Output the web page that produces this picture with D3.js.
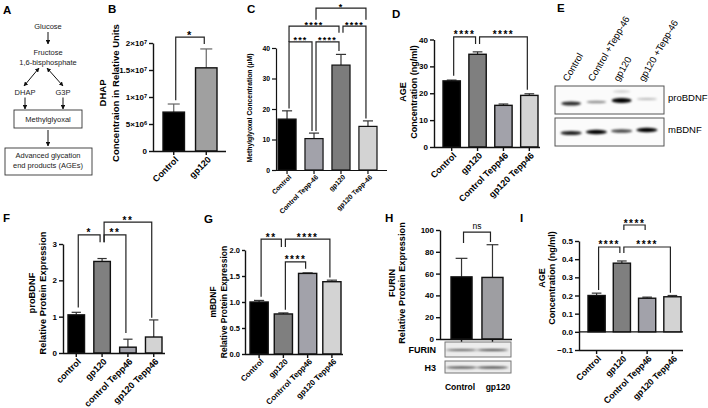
<!DOCTYPE html>
<html><head><meta charset="utf-8">
<script src="https://cdn.jsdelivr.net/npm/d3@7"></script>
<style>
body{margin:0;background:#fff;}
svg{display:block;}
</style></head><body>
<svg id="fig" width="708" height="408"></svg>
<script>
// ---------------- DATA ----------------
// Panel A flow chart
const flowNodes = ["Glucose","Fructose","1,6-bisphosphate","DHAP","G3P","Methylglyoxal","Advanced glycation","end products (AGEs)"];

// Panel B
const bCats = ["Control","gp120"];
const bMeans = [7.2e6, 1.54e7];
const bSem = [1.5e6, 3.5e6];
const bTicks = [0, 5e6, 1e7, 1.5e7, 2e7];
const bSig = [[0,1,"*",2.11e7,9.4e6,1.98e7]];

// Panel C
const cCats = ["Control","Control Tepp-46","gp120","gp120 Tepp-46"];
const cMeans = [16.7, 10.3, 34.4, 14.3];
const cSem = [2.7, 1.8, 3.5, 1.8];
const cTicks = [0,10,20,30,40];
const cSig = [[0,1,"***",42,20.2,12.8],[1,2,"****",42,12.8,39],[0,2,"****",47.2,42,45],[2,3,"****",47.2,45,16.9],[1,3,"*",53.1,49.3,49.3]];

// Panel D
const dCats = ["Control","gp120","Control Tepp46","gp120 Tepp46"];
const dMeans = [24.6, 34.5, 15.5, 19.2];
const dSem = [0.3, 0.9, 0.5, 0.6];
const dTicks = [0,10,20,30,40];
const dSig = [[0,1,"****",41,26.5,38.3],[1,3,"****",41,38.3,21.3]];

// Panel E (western blot)
const eLanes = ["Control","Control +Tepp-46","gp120","gp120 +Tepp-46"];
const eProBDNF = [0.8, 0.35, 1.0, 0.15];
const eMBDNF = [0.85, 1.0, 0.65, 1.0];
const eBlotLabels = ["proBDNF","mBDNF"];

// Panel F
const fCats = ["control","gp120","control Tepp46","gp120 Tepp46"];
const fMeans = [1.05, 2.52, 0.16, 0.44];
const fSem = [0.07, 0.08, 0.22, 0.47];
const fTicks = [0,1,2,3];
const fSig = [[0,1,"*",3.25,1.25,3.05],[1,2,"**",3.25,3.05,0.55],[1,3,"**",3.6,3.05,0.97]];

// Panel G
const gCats = ["Control","gp120","Contrrol Tepp46","gp120 Tepp46"];
const gMeans = [1.0, 0.77, 1.55, 1.39];
const gSem = [0.03, 0.02, 0.01, 0.03];
const gTicks = [0,0.5,1.0,1.5,2.0];
const gSig = [[0,1,"**",2.21,1.1,2.06],[1,3,"****",2.21,2.06,1.47],[1,2,"****",1.77,0.85,1.64]];

// Panel H
const hCats = ["Control","gp120"];
const hMeans = [57, 56.5];
const hSem = [17, 30];
const hTicks = [0,20,40,60,80,100];
const hSig = [[0,1,"ns",98,88,89]];
const hBlots = ["FURIN","H3"];
const hFurin = [0.6, 0.7];
const hH3 = [0.75, 0.8];

// Panel I
const iCats = ["Control","gp120","Control Tepp46","gp120 Tepp46"];
const iMeans = [0.2, 0.378, 0.185, 0.193];
const iSem = [0.013, 0.012, 0.006, 0.007];
const iTicks = [-0.1,0.0,0.1,0.2,0.3,0.4,0.5];
const iSig = [[0,1,"****",0.467,0.23,0.434],[1,3,"****",0.467,0.434,0.215],[1,2,"****",0.588,0.56,0.56]];

const panelLetters = ["A","B","C","D","E","F","G","H","I"];

// ---------------- DRAWING ----------------
const FONT = '"Liberation Sans", Arial, Helvetica, sans-serif';
const svg = d3.select("#fig").attr("font-family", FONT);
const defs = svg.append("defs");
defs.append("marker").attr("id","ah").attr("viewBox","0 0 10 10")
  .attr("refX",9).attr("refY",5).attr("markerWidth",4.5).attr("markerHeight",4.5)
  .attr("orient","auto-start-reverse")
  .append("path").attr("d","M0,0L10,5L0,10z").attr("fill","#111");
defs.append("filter").attr("id","blur").attr("x","-20%").attr("y","-200%").attr("width","140%").attr("height","500%")
  .append("feGaussianBlur").attr("stdDeviation",0.8);

// panel letters
const letterPos = [[3,13.5],[108,13],[247,13],[392,18],[557,12],[3,222],[204,223],[385,222],[520,222]];
panelLetters.forEach((L,i)=>{
  svg.append("text").attr("x",letterPos[i][0]).attr("y",letterPos[i][1])
    .attr("font-size",11.5).attr("font-weight","bold").text(L);
});

// ---- Panel A ----
(function(){
  const g = svg.append("g").attr("font-size",7.5).attr("fill","#222").attr("text-anchor","middle");
  const tp = [[48,28.5],[48,54.5],[48,64.5],[25,94.5],[63,94.5],[48,121.5],[48,158],[48,167.5]];
  flowNodes.forEach((t,i)=> g.append("text").attr("x",tp[i][0]).attr("y",tp[i][1]).text(t));
  const arrows = [
    [48,32,48,44,false],[39,68,24,86,true],[47,68,63,86,true],
    [25,97.5,25,109,false],[63,97.5,63,109,false],[48,130,48,146,false]
  ];
  arrows.forEach(a=>{
    const l = g.append("line").attr("x1",a[0]).attr("y1",a[1]).attr("x2",a[2]).attr("y2",a[3])
      .attr("stroke","#111").attr("stroke-width",1).attr("marker-end","url(#ah)");
    if (a[4]) l.attr("marker-start","url(#ah)");
  });
  g.append("rect").attr("x",14).attr("y",110).attr("width",68).attr("height",18).attr("fill","none").attr("stroke","#333").attr("stroke-width",0.9);
  g.append("rect").attr("x",5).attr("y",148).attr("width",87).attr("height",27).attr("fill","none").attr("stroke","#333").attr("stroke-width",0.9);
})();

// ---- generic bar panel ----
function supFmt(v){
  if (v===0) return "0";
  const e = Math.floor(Math.log10(v));
  const m = +(v/Math.pow(10,e)).toFixed(2);
  return m + "×10^" + e;
}

function barPanel(p){
  const g = svg.append("g");
  const y = d3.scaleLinear().domain(p.domain).range([p.yBot, p.yTop]);
  const x = d3.scaleBand().domain(p.cats).range([p.barL, p.barR]).paddingInner(p.pad).paddingOuter(0);
  const bw = x.bandwidth();
  const zeroY = y(Math.max(0, p.domain[0]));
  const sw = p.sw || 1.4;
  const tk = p.tickLen || 4;

  if (p.domain[0] < 0) {
    g.append("line").attr("x1",p.axX).attr("x2",p.axEnd).attr("y1",zeroY).attr("y2",zeroY)
      .attr("stroke","#111").attr("stroke-width",sw);
  }
  // error bars (upward only)
  p.cats.forEach((c,i)=>{
    const cx = x(c)+bw/2, top = y(p.means[i]+p.sem[i]);
    g.append("line").attr("x1",cx).attr("x2",cx).attr("y1",y(p.means[i])).attr("y2",top)
      .attr("stroke",p.errColor||"#333").attr("stroke-width",1.2);
    g.append("line").attr("x1",cx-bw*0.28).attr("x2",cx+bw*0.28).attr("y1",top).attr("y2",top)
      .attr("stroke",p.errColor||"#333").attr("stroke-width",1.2);
  });
  // bars
  g.selectAll("rect.bar").data(p.cats).join("rect").attr("class","bar")
    .attr("x",d=>x(d)).attr("y",(d,i)=>y(p.means[i]))
    .attr("width",bw).attr("height",(d,i)=>zeroY-y(p.means[i]))
    .attr("fill",(d,i)=>p.colors[i]).attr("stroke","#111").attr("stroke-width",sw);

  // y axis
  const ya = g.append("g").attr("transform",`translate(${p.axX},0)`)
    .call(d3.axisLeft(y).tickValues(p.ticks).tickSize(tk).tickSizeOuter(0).tickFormat(p.fmt||(d=>d)))
    .attr("font-family",FONT);
  ya.select(".domain").attr("stroke","#111").attr("stroke-width",sw);
  ya.selectAll(".tick line").attr("stroke","#111").attr("stroke-width",sw);
  ya.selectAll(".tick text").attr("font-size",p.tickFs).attr("font-weight","bold").attr("x",-(tk+2))
    .each(function(){
      const s = d3.select(this), t = s.text();
      if (t.includes("^")) {
        const [a,b] = t.split("^");
        s.text(null);
        s.append("tspan").text(a);
        s.append("tspan").attr("dy","-0.45em").attr("font-size","70%").text(b);
      }
    });

  // x axis
  const xa = g.append("g").attr("transform",`translate(0,${p.yBot})`)
    .call(d3.axisBottom(x).tickSize(4).tickSizeOuter(0)).attr("font-family",FONT);
  xa.select(".domain").remove();
  xa.selectAll(".tick line").attr("stroke","#111").attr("stroke-width",sw);
  xa.append("line").attr("x1",p.axX).attr("x2",p.axEnd).attr("y1",0.5).attr("y2",0.5)
    .attr("stroke","#111").attr("stroke-width",sw);
  if (p.xlRot === 0) {
    xa.selectAll(".tick text").remove();
  } else {
    xa.selectAll(".tick text").attr("font-size",p.xlFs).attr("font-weight","bold")
      .attr("text-anchor","end").attr("x",0).attr("y",0).attr("dy","0.35em")
      .attr("transform",`translate(${p.xlDx},${p.xlDy}) rotate(-45)`);
  }

  // y label
  p.ylab.forEach((t,k)=>{
    g.append("text").attr("transform",`translate(${p.ylabX[k]},${p.ylabY}) rotate(-90)`)
      .attr("text-anchor","middle").attr("dy","0.35em").attr("font-size",p.ylabFs)
      .attr("font-weight","bold").text(t);
  });

  // significance brackets
  p.sig.forEach(s=>{
    const [i,j,lab,lvl,li,lj] = s;
    const xi = x(p.cats[i])+bw/2+2, xj = x(p.cats[j])+bw/2-2;
    g.append("path").attr("d",`M${xi},${y(li)}V${y(lvl)}H${xj}V${y(lj)}`)
      .attr("fill","none").attr("stroke","#222").attr("stroke-width",1.2);
    const isNs = lab==="ns";
    g.append("text").attr("x",(xi+xj)/2).attr("y", isNs ? y(lvl)-3 : y(lvl)+(p.starDy||1.5))
      .attr("text-anchor","middle").attr("font-size", isNs ? 8.5 : p.starFs)
      .attr("font-weight", isNs ? "normal" : "bold")
      .attr("letter-spacing", isNs ? 0 : p.starLs)
      .text(lab);
  });
  return {x,y,g};
}

const greys4a = ["#000000","#a2a2aa","#7c7c7c","#d3d3d3"];
const greys4b = ["#000000","#7f7f7f","#a2a2aa","#d3d3d3"];

// B
barPanel({cats:bCats, means:bMeans, sem:bSem, ticks:bTicks, sig:bSig, fmt:supFmt,
  domain:[0,2e7], axX:153, axEnd:226, yBot:151, yTop:43, barL:163, barR:217, pad:0.34,
  colors:["#000000","#a0a0a0"], tickFs:8, xlFs:9, xlDx:3, xlDy:7,
  ylab:["DHAP","Concentraion in Relative Units"], ylabX:[103,116], ylabY:93, ylabFs:9.5,
  starFs:11, starLs:1.5, starDy:2, errColor:"#666"});

// C
barPanel({cats:cCats, means:cMeans, sem:cSem, ticks:cTicks, sig:cSig,
  domain:[0,40], axX:276, axEnd:387, yBot:170, yTop:48, barL:278, barR:377, pad:0.33,
  colors:greys4a, tickFs:6.8, xlFs:6.8, xlDx:3, xlDy:6,
  ylab:["Methylglyoxal Concentration (µM)"], ylabX:[250], ylabY:108, ylabFs:6.8,
  starFs:9, starLs:1.2, sw:1.2});

// D
barPanel({cats:dCats, means:dMeans, sem:dSem, ticks:dTicks, sig:dSig,
  domain:[0,40], axX:434, axEnd:540, yBot:147, yTop:39.5, barL:443, barR:538, pad:0.33,
  colors:greys4b, tickFs:8, xlFs:9, xlDx:3, xlDy:7,
  ylab:["AGE","Concentration (ng/ml)"], ylabX:[403,414], ylabY:92, ylabFs:9,
  starFs:10, starLs:1.5});

// F
barPanel({cats:fCats, means:fMeans, sem:fSem, ticks:fTicks, sig:fSig,
  domain:[0,3], axX:63, axEnd:165, yBot:353, yTop:244, barL:68, barR:162, pad:0.36,
  colors:["#000000","#808080","#a2a2aa","#d3d3d3"], tickFs:8, xlFs:9, xlDx:3, xlDy:7,
  ylab:["proBDNF","Relative Protein Expression"], ylabX:[32,43], ylabY:293, ylabFs:9.3,
  starFs:10, starLs:1.5});

// G
barPanel({cats:gCats, means:gMeans, sem:gSem, ticks:gTicks, sig:gSig, fmt:d3.format(".1f"),
  domain:[0,2], axX:245, axEnd:343, yBot:354, yTop:250, barL:250, barR:341, pad:0.25,
  colors:greys4b, tickFs:7.5, tickLen:3, xlFs:8, xlDx:3, xlDy:6,
  ylab:["mBDNF","Relative Protein Expression"], ylabX:[213,224], ylabY:302, ylabFs:8.5,
  starFs:10, starLs:1.5});

// H
const hp = barPanel({cats:hCats, means:hMeans, sem:hSem, ticks:hTicks, sig:hSig,
  domain:[0,100], axX:440, axEnd:512, yBot:339, yTop:230, barL:451, barR:503, pad:0.32,
  colors:["#000000","#9e9ea2"], tickFs:8, xlRot:0,
  ylab:["FURIN","Relative Protein Expression"], ylabX:[392,402], ylabY:283, ylabFs:9.2,
  starFs:10, starLs:1.5});

// I
barPanel({cats:iCats, means:iMeans, sem:iSem, ticks:iTicks, sig:iSig, fmt:d3.format(".1f"),
  domain:[-0.1,0.5], axX:579, axEnd:683, yBot:350, yTop:241, barL:588, barR:681, pad:0.32,
  colors:greys4b, tickFs:8, xlFs:8.8, xlDx:3, xlDy:7,
  ylab:["AGE","Concentration (ng/ml)"], ylabX:[542,552], ylabY:278, ylabFs:9,
  starFs:10, starLs:1.5});

// ---- Panel E: blot ----
(function(){
  const g = svg.append("g");
  const lane = d3.scaleBand().domain(eLanes).range([560,658]).paddingInner(0.12);
  const bw = lane.bandwidth();
  const boxes = [[86,114],[118,146]];
  boxes.forEach(b=>{
    g.append("rect").attr("x",555).attr("y",b[0]).attr("width",109).attr("height",b[1]-b[0])
      .attr("fill","#fbfbfb").attr("stroke","#555").attr("stroke-width",1);
  });
  const bands = g.append("g").attr("filter","url(#blur)");
  eLanes.forEach((l,i)=>{
    const cx = lane(l)+bw/2;
    const v1 = eProBDNF[i];
    bands.append("ellipse").attr("cx",cx).attr("cy",103.5-1.5*i).attr("rx",bw*0.45).attr("ry",0.8+1.6*v1)
      .attr("fill","#000").attr("opacity",0.15+0.85*v1);
    const v2 = eMBDNF[i];
    bands.append("ellipse").attr("cx",cx).attr("cy",133-1*i).attr("rx",bw*0.48).attr("ry",0.8+1.4*v2)
      .attr("fill","#000").attr("opacity",0.2+0.8*v2);
  });
  // faint upper band in strongest proBDNF lane
  const iMax = eProBDNF.indexOf(d3.max(eProBDNF));
  bands.append("ellipse").attr("cx",lane(eLanes[iMax])+bw/2).attr("cy",91.5).attr("rx",bw*0.4).attr("ry",1.2)
    .attr("fill","#000").attr("opacity",0.18);
  // lane labels
  eLanes.forEach((l,i)=>{
    g.append("text").attr("transform",`translate(${lane(l)+bw/2-3},${82}) rotate(-60)`)
      .attr("font-size",9.5).attr("text-anchor","start").text(l);
  });
  eBlotLabels.forEach((t,k)=>{
    g.append("text").attr("x",668).attr("y",[100.5,132.5][k]).attr("font-size",9.5).text(t);
  });
})();

// ---- Panel H blots ----
(function(){
  const g = svg.append("g");
  const x = hp.x, bw = x.bandwidth();
  const boxes = [[342,357],[361,373]];
  const vals = [hFurin, hH3];
  boxes.forEach((b,k)=>{
    g.append("rect").attr("x",445).attr("y",b[0]).attr("width",66).attr("height",b[1]-b[0])
      .attr("fill","#ececec").attr("stroke","#777").attr("stroke-width",1);
    const bands = g.append("g").attr("filter","url(#blur)");
    hCats.forEach((c,i)=>{
      bands.append("ellipse").attr("cx",x(c)+bw/2).attr("cy",(b[0]+b[1])/2+0.5).attr("rx",bw*0.75).attr("ry",0.9)
        .attr("fill","#000").attr("opacity",vals[k][i]);
    });
    g.append("text").attr("x",436).attr("y",(b[0]+b[1])/2+3.5).attr("text-anchor","end")
      .attr("font-size",9).attr("font-weight","bold").text(hBlots[k]);
  });
  const labShift = [-1.5, 5.5];
  hCats.forEach((c,i)=>{
    g.append("text").attr("x",x(c)+bw/2+labShift[i]).attr("y",390).attr("text-anchor","middle")
      .attr("font-size",8.5).attr("font-weight","bold").text(c);
  });
})();
</script>
</body></html>
